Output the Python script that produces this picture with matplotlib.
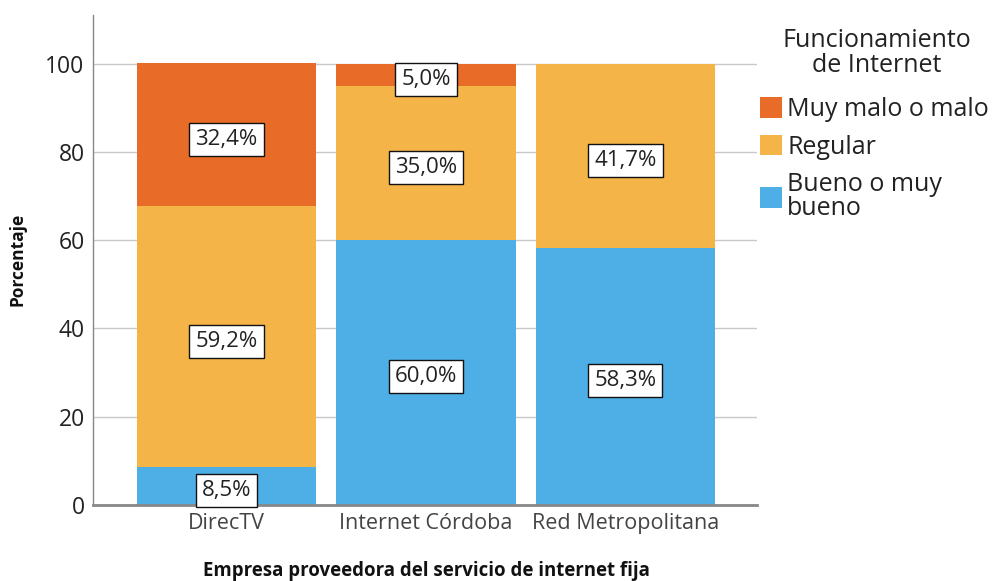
import matplotlib
matplotlib.use("Agg")
import matplotlib.pyplot as plt
import numpy as np

categories = ["DirecTV", "Internet Córdoba", "Red Metropolitana"]
series_names = ["Muy malo o malo", "Regular", "Bueno o muy bueno"]
bueno = [8.5, 60.0, 58.3]
regular = [59.2, 35.0, 41.7]
malo = [32.4, 5.0, 0.0]
yticks = [0, 20, 40, 60, 80, 100]

c_malo = "#E86C28"
c_reg = "#F5B447"
c_bueno = "#4EAEE6"

plt.rcParams['font.family'] = ['Open Sans', 'DejaVu Sans']

fig = plt.figure(figsize=(9.93, 5.81), dpi=100)
ax = fig.add_axes([93/993, 1-505/581, (757-93)/993, (505-15)/581])

x = np.arange(len(categories))
w = 0.9
b1 = ax.bar(x, bueno, w, color=c_bueno, label=series_names[2], zorder=2)
b2 = ax.bar(x, regular, w, bottom=bueno, color=c_reg, label=series_names[1], zorder=2)
bottom3 = [a + b for a, b in zip(bueno, regular)]
b3 = ax.bar(x, malo, w, bottom=bottom3, color=c_malo, label=series_names[0], zorder=2)

def fmt(v):
    return f"{v:.1f}".replace(".", ",") + "%"

box = dict(boxstyle="square,pad=0.27", fc="white", ec="#111111", lw=1.0)
for i in range(len(categories)):
    segs = [(bueno[i], 0), (regular[i], bueno[i]), (malo[i], bottom3[i])]
    for v, b in segs:
        if v > 0:
            ax.text(x[i], b + v / 2 - 1.0, fmt(v), ha="center", va="center",
                    fontsize=16, color="#222222", bbox=box, zorder=5)

ax.set_xlim(-0.67, 2.66)
ax.set_ylim(0, 111)
ax.set_yticks(yticks)
ax.set_xticks(x)
ax.set_xticklabels(categories)
ax.tick_params(axis="y", length=0, labelsize=16.5, colors="#222222", pad=6)
ax.tick_params(axis="x", length=0, labelsize=15.5, colors="#444444", pad=6)
ax.yaxis.grid(True, color="#c8c8c8", lw=1, zorder=0)
ax.set_axisbelow(True)
for s in ["top", "right"]:
    ax.spines[s].set_visible(False)
ax.spines["left"].set_color("#888888")
ax.spines["left"].set_linewidth(1)
ax.spines["bottom"].set_color("#888888")
ax.spines["bottom"].set_linewidth(2)

fig.text(18/993, 1-259/581, "Porcentaje", rotation=90, ha="center", va="center",
         fontsize=12.5, fontweight="bold", color="#111111")
fig.text(426/993, 1-571/581, "Empresa proveedora del servicio de internet fija",
         ha="center", va="center", fontsize=13.4, fontweight="bold", color="#111111")

# legend title as separate text
fig.text(877/993, 1-53/581, "Funcionamiento\nde Internet", ha="center", va="center",
         multialignment="center", linespacing=1.05, fontsize=18, color="#222222")

handles = [b3, b2, b1]
leg = fig.legend(handles, series_names, loc="upper left",
                 bbox_to_anchor=(750/993, 1-87/581), frameon=False,
                 fontsize=18, handlelength=0.88, handleheight=0.88,
                 handletextpad=0.2, labelspacing=0.5, borderaxespad=0)
for t in leg.get_texts():
    t.set_color("#222222")
leg.get_texts()[2].set_text("Bueno o muy\nbueno")
leg.get_texts()[2].set_linespacing(0.95)

fig.savefig("out.png", dpi=100)
